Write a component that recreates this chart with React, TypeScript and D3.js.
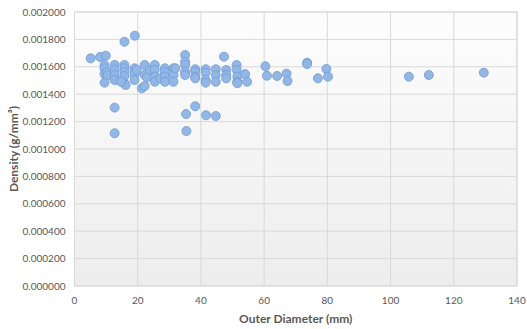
import React from 'react';
import * as d3 from 'd3';

// outer diameter (mm) and density (g/mm3)
const diameters = [
  5.1, 8.1, 9.9, 15.8, 19.1, 12.7, 12.7,
  9.5, 9.5, 9.5, 9.5, 10.2, 10.5,
  12.7, 12.7, 12.7, 12.7,
  15.8, 15.8, 15.8, 15.8, 15.8, 16.2, 14.7,
  19.0, 19.0, 19.0, 19.0, 19.7,
  21.3, 22.2, 22.2, 22.2, 22.9, 23.9,
  25.4, 25.4, 25.4, 25.4, 27.1,
  28.6, 28.6, 28.6, 28.6,
  31.3, 31.3, 31.3, 31.9,
  35.0, 35.0, 35.0, 35.0, 35.0, 35.3, 35.4,
  38.2, 38.2, 38.2, 38.2, 38.2,
  41.5, 41.5, 41.5, 41.5, 41.6,
  44.7, 44.7, 44.7, 44.7,
  47.3, 48.0, 48.0, 48.0,
  51.3, 51.3, 51.5, 51.5, 51.5,
  54.0, 54.6,
  60.4, 60.9, 64.1, 67.1, 67.4,
  73.6, 73.6, 77.0, 79.7, 80.2,
  105.8, 112.1, 129.5,
];
const densities = [
  0.001662, 0.001672, 0.001681, 0.001783, 0.001827, 0.001302, 0.001115,
  0.001613, 0.001589, 0.001547, 0.001484, 0.001560, 0.001540,
  0.001613, 0.001577, 0.001540, 0.001504,
  0.001613, 0.001589, 0.001564, 0.001533, 0.001480, 0.001467, 0.001491,
  0.001589, 0.001564, 0.001540, 0.001504, 0.001577,
  0.001443, 0.001613, 0.001540, 0.001460, 0.001523, 0.001577,
  0.001613, 0.001577, 0.001528, 0.001491, 0.001516,
  0.001589, 0.001564, 0.001528, 0.001491,
  0.001589, 0.001540, 0.001491, 0.001589,
  0.001686, 0.001637, 0.001613, 0.001564, 0.001540, 0.001255, 0.001131,
  0.001582, 0.001564, 0.001528, 0.001516, 0.001312,
  0.001582, 0.001557, 0.001504, 0.001484, 0.001246,
  0.001582, 0.001540, 0.001491, 0.001241,
  0.001674, 0.001577, 0.001540, 0.001516,
  0.001613, 0.001577, 0.001528, 0.001491, 0.001480,
  0.001547, 0.001491,
  0.001604, 0.001535, 0.001533, 0.001550, 0.001496,
  0.001630, 0.001620, 0.001516, 0.001584, 0.001528,
  0.001528, 0.001540, 0.001557,
];
const xTicks = [0, 20, 40, 60, 80, 100, 120, 140];
const yTicks = [0, 0.0002, 0.0004, 0.0006, 0.0008, 0.001, 0.0012, 0.0014, 0.0016, 0.0018, 0.002];

const W = 527;
const H = 329;
const LEFT = 74.5;
const RIGHT = 517;
const TOP = 12;
const BOTTOM = 286;
const FONT = 'Lato, "Open Sans", sans-serif';
const TEXT = '#595959';
const GRID = '#d9d9d9';

export default function App() {
  const x = d3.scaleLinear().domain([0, 140]).range([LEFT, RIGHT]);
  const y = d3.scaleLinear().domain([0, 0.002]).range([BOTTOM, TOP]);
  const points = diameters.map((d, i) => ({ d, rho: densities[i] }));

  return (
    <svg width={W} height={H} style={{ position: 'absolute', left: 0, top: 0, background: '#fff' }}>
      <defs>
        <linearGradient id="plotbg" x1="0" y1="0" x2="0" y2="1">
          <stop offset="0" stopColor="#fdfdfd" />
          <stop offset="1" stopColor="#ededed" />
        </linearGradient>
      </defs>
      <rect x={LEFT} y={TOP} width={RIGHT - LEFT} height={BOTTOM - TOP} fill="url(#plotbg)" stroke={GRID} />
      {/* grid */}
      {yTicks.map(t => (
        <line key={'gy' + t} x1={LEFT} x2={RIGHT} y1={y(t)} y2={y(t)} stroke={GRID} strokeWidth={1} />
      ))}
      {xTicks.map(t => (
        <line key={'gx' + t} x1={x(t)} x2={x(t)} y1={TOP} y2={BOTTOM} stroke={GRID} strokeWidth={1} />
      ))}
      {/* tick labels */}
      {yTicks.map(t => (
        <text key={'ty' + t} x={LEFT - 9} y={y(t)} dy="0.35em" textAnchor="end"
          fontFamily={FONT} fontSize={10} fill={TEXT}>{d3.format('.6f')(t)}</text>
      ))}
      {xTicks.map(t => (
        <text key={'tx' + t} x={x(t)} y={BOTTOM + 14} dy="0.35em" textAnchor="middle"
          fontFamily={FONT} fontSize={10} fill={TEXT}>{t}</text>
      ))}
      {/* points */}
      {points.map((p, i) => (
        <circle key={i} cx={x(p.d)} cy={y(p.rho)} r={4.5} fill="#93b7e5" stroke="#6f9bd5" strokeWidth={0.8} />
      ))}
      {/* axis titles */}
      <text x={(LEFT + RIGHT) / 2} y={BOTTOM + 33} dy="0.35em" textAnchor="middle"
        fontFamily={FONT} fontSize={12} fontWeight="bold" fill={TEXT}>Outer Diameter (mm)</text>
      <text transform={`translate(14,${(TOP + BOTTOM) / 2}) rotate(-90)`} dy="0.35em" textAnchor="middle"
        fontFamily={FONT} fontSize={12} fontWeight="bold" fill={TEXT}>Density (g/mm³)</text>
    </svg>
  );
}
